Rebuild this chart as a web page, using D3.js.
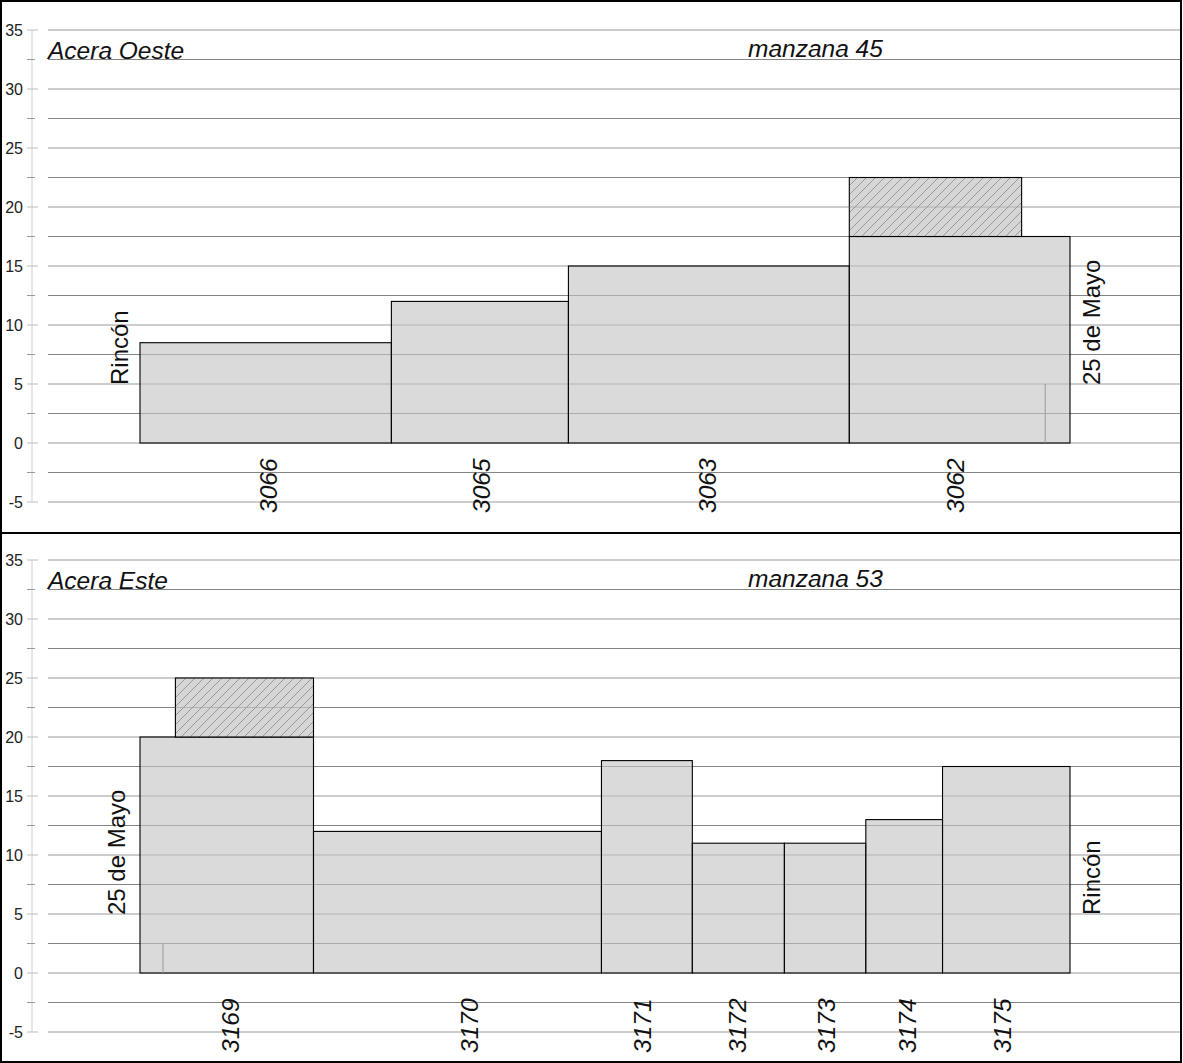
<!DOCTYPE html>
<html><head><meta charset="utf-8">
<script src="https://cdn.jsdelivr.net/npm/d3@7"></script>
<style>body{margin:0;background:#fff}svg{display:block}text{font-family:"Liberation Sans",Arial,sans-serif}</style>
</head><body>
<script>
// ---- data (meters) ----
const yTicks = [-5, 0, 5, 10, 15, 20, 25, 30, 35];
const yMinorTicks = [-2.5, 2.5, 7.5, 12.5, 17.5, 22.5, 27.5, 32.5];

const westLots = ["3066", "3065", "3063", "3062"];
const westWidths = [21.3, 15.0, 23.8, 18.7];
const westHeights = [8.5, 12, 15, 17.5];
const westLabelPos = [10.9, 28.9, 48.1, 69.1];
const westHatch = [{x0: 60.1, x1: 74.7, y0: 17.5, y1: 22.5}];
const westMarks = [{x: 76.7, y0: 0, y1: 5}];

const eastLots = ["3169", "3170", "3171", "3172", "3173", "3174", "3175"];
const eastWidths = [14.7, 24.4, 7.7, 7.8, 6.9, 6.5, 10.8];
const eastHeights = [20, 12, 18, 11, 11, 13, 17.5];
const eastLabelPos = [7.7, 27.9, 42.6, 50.6, 58.2, 65.0, 73.1];
const eastHatch = [{x0: 3.0, x1: 14.7, y0: 20, y1: 25}];
const eastMarks = [{x: 1.95, y0: 0, y1: 2.5}];

const W = 1183, H = 1063;
const svg = d3.select("body").append("svg").attr("width", W).attr("height", H);

const defs = svg.append("defs");
const pat = defs.append("pattern").attr("id", "hatch").attr("patternUnits", "userSpaceOnUse")
  .attr("width", 9).attr("height", 9);
pat.append("rect").attr("width", 9).attr("height", 9).attr("fill", "#d6d6d6");
pat.append("path").attr("d", "M-2,2 L2,-2 M0,9 L9,0 M7,11 L11,7")
  .attr("stroke", "#8a8a8a").attr("stroke-width", 0.8);

const x = d3.scaleLinear().domain([0, 78.8]).range([140, 1070]);

function panel(cfg) {
  const g = svg.append("g");
  const y = d3.scaleLinear().domain([-5, 35]).range([cfg.yBottom, cfg.yBottom - 472]);

  // grid
  g.selectAll(".gmaj").data(yTicks).join("line")
    .attr("x1", 48).attr("x2", 1181).attr("y1", d => y(d)).attr("y2", d => y(d))
    .attr("stroke", "#9a9a9a").attr("stroke-width", 1);
  g.selectAll(".gmin").data(yMinorTicks).join("line")
    .attr("x1", 48).attr("x2", 1181).attr("y1", d => y(d)).attr("y2", d => y(d))
    .attr("stroke", "#858585").attr("stroke-width", 1);

  // axis
  g.append("line").attr("x1", 32).attr("x2", 32).attr("y1", y(35)).attr("y2", y(-5))
    .attr("stroke", "#cfcfcf");
  g.selectAll(".tmaj").data(yTicks).join("line")
    .attr("x1", 27).attr("x2", 38).attr("y1", d => y(d)).attr("y2", d => y(d)).attr("stroke", "#bdbdbd");
  g.selectAll(".tmin").data(yMinorTicks).join("line")
    .attr("x1", 27).attr("x2", 35).attr("y1", d => y(d)).attr("y2", d => y(d)).attr("stroke", "#9a9a9a");
  g.selectAll(".tl").data(yTicks).join("text")
    .attr("x", 23).attr("y", d => y(d)).attr("dy", "0.36em").attr("text-anchor", "end")
    .attr("font-size", 16).attr("fill", "#222").text(d => d);

  // bars
  const starts = d3.cumsum([0].concat(cfg.widths)).slice(0, cfg.widths.length);
  const bars = cfg.lots.map((l, i) => ({lot: l, x0: starts[i], x1: starts[i] + cfg.widths[i], h: cfg.heights[i]}));
  g.selectAll(".bar").data(bars).join("rect")
    .attr("x", d => x(d.x0)).attr("width", d => x(d.x1) - x(d.x0))
    .attr("y", d => y(d.h)).attr("height", d => y(0) - y(d.h))
    .attr("fill", "#c4c4c4").attr("fill-opacity", 0.62)
    .attr("stroke", "#000").attr("stroke-width", 1.1);
  g.selectAll(".hatch").data(cfg.hatch).join("rect")
    .attr("x", d => x(d.x0)).attr("width", d => x(d.x1) - x(d.x0))
    .attr("y", d => y(d.y1)).attr("height", d => y(d.y0) - y(d.y1))
    .attr("fill", "url(#hatch)").attr("stroke", "#000").attr("stroke-width", 1.1);
  g.selectAll(".hg").data(yTicks.concat(yMinorTicks).filter(v => cfg.hatch.some(h => v > h.y0 && v < h.y1))).join("line")
    .attr("x1", x(cfg.hatch[0].x0)).attr("x2", x(cfg.hatch[0].x1)).attr("y1", d => y(d)).attr("y2", d => y(d))
    .attr("stroke", "#999").attr("stroke-opacity", 0.6);
  g.selectAll(".mk").data(cfg.marks).join("line")
    .attr("x1", d => x(d.x)).attr("x2", d => x(d.x)).attr("y1", d => y(d.y0)).attr("y2", d => y(d.y1))
    .attr("stroke", "#999").attr("stroke-width", 1);

  // lot labels
  g.selectAll(".lot").data(cfg.lots).join("text")
    .attr("transform", (d, i) => `translate(${x(cfg.labelPos[i]) + 8.5},${cfg.labelY}) rotate(-90)`)
    .attr("font-size", 24.5).attr("font-style", "italic").attr("fill", "#111").text(d => d);

  // side labels
  g.append("text").attr("transform", `translate(${cfg.leftX},${y(5) + 1}) rotate(-90)`)
    .attr("font-size", 24).attr("fill", "#111").text(cfg.leftText);
  g.append("text").attr("transform", `translate(1100,${y(5) + 1}) rotate(-90)`)
    .attr("font-size", 24).attr("fill", "#111").text(cfg.rightText);

  // titles
  g.append("text").attr("x", 48).attr("y", y(35) + 29).attr("font-size", 24.5).attr("font-style", "italic")
    .attr("fill", "#111").text(cfg.title);
  g.append("text").attr("x", 748).attr("y", y(35) + 27).attr("font-size", 24.5).attr("font-style", "italic")
    .attr("fill", "#111").text(cfg.block);

  // frame
  g.append("rect").attr("x", cfg.frame[0]).attr("y", cfg.frame[1]).attr("width", cfg.frame[2]).attr("height", cfg.frame[3])
    .attr("fill", "none").attr("stroke", "#000").attr("stroke-width", 2);
}

panel({yBottom: 502, lots: westLots, widths: westWidths, heights: westHeights, labelPos: westLabelPos,
  hatch: westHatch, marks: westMarks, labelY: 513, leftX: 128, leftText: "Rincón", rightText: "25 de Mayo",
  title: "Acera Oeste", block: "manzana 45", frame: [1, 1, 1180, 532]});
panel({yBottom: 1032, lots: eastLots, widths: eastWidths, heights: eastHeights, labelPos: eastLabelPos,
  hatch: eastHatch, marks: eastMarks, labelY: 1053, leftX: 125, leftText: "25 de Mayo", rightText: "Rincón",
  title: "Acera Este", block: "manzana 53", frame: [1, 533, 1180, 529]});
</script>
</body></html>
